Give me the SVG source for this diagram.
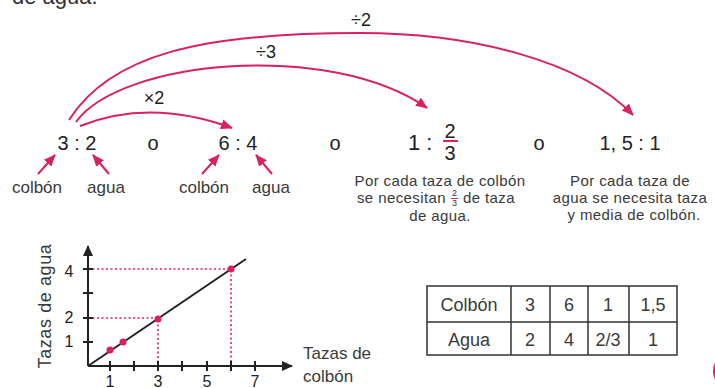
<svg xmlns="http://www.w3.org/2000/svg" width="715" height="388" viewBox="0 0 715 388">
<style>
  .num { font-family: "Liberation Sans", Arial, sans-serif; font-size: 20px; fill: #222; }
  .op { font-family: "Liberation Sans", Arial, sans-serif; font-size: 18px; fill: #222; }
  .lbl { font-family: "Liberation Sans", Arial, sans-serif; font-size: 17px; fill: #3a3a3a; }
  .desc { font-family: "Liberation Sans", Arial, sans-serif; font-size: 15px; fill: #3a3a3a; letter-spacing: 0.4px; text-anchor: middle; }
  .frac { font-family: "Liberation Sans", Arial, sans-serif; font-size: 9px; fill: #3a3a3a; text-anchor: middle; }
  .tbl { font-family: "Liberation Sans", Arial, sans-serif; font-size: 18px; fill: #3a3a3a; text-anchor: middle; }
  .ax { font-family: "Liberation Sans", Arial, sans-serif; font-size: 16px; fill: #222; text-anchor: middle; }
  .pk { fill: none; stroke: #d9215b; stroke-width: 2; }
  .dot { fill: none; stroke: #d9215b; stroke-width: 1.6; stroke-dasharray: 2 2.5; }
  .axis { fill: none; stroke: #222; stroke-width: 2; }
</style>
<defs>
  <marker id="ah" markerUnits="userSpaceOnUse" markerWidth="13" markerHeight="12" refX="11" refY="6" orient="auto">
    <path d="M0,1 L12,6 L0,11 z" fill="#d9215b"/>
  </marker>
  <marker id="axh" markerUnits="userSpaceOnUse" markerWidth="12" markerHeight="12" refX="10" refY="6" orient="auto">
    <path d="M0,1 L11,6 L0,11 z" fill="#222"/>
  </marker>
</defs>
<rect width="715" height="388" fill="#fff"/>

<text x="12" y="4" style="font-family:'Liberation Sans',Arial,sans-serif;font-size:22px;fill:#333">de agua.</text>

<g id="connectors">
  <path class="pk" d="M80,126 Q150,98 232,128" marker-end="url(#ah)"/>
  <path class="pk" d="M76,122 C120,60 330,40 427,108" marker-end="url(#ah)"/>
  <path class="pk" d="M69,120 C110,55 200,33 360,33 C470,33 580,60 633,115" marker-end="url(#ah)"/>
  <line class="pk" x1="38" y1="174" x2="55" y2="155" marker-end="url(#ah)"/>
  <line class="pk" x1="109" y1="174" x2="93" y2="155" marker-end="url(#ah)"/>
  <line class="pk" x1="202" y1="174" x2="219" y2="155" marker-end="url(#ah)"/>
  <line class="pk" x1="272" y1="174" x2="256" y2="155" marker-end="url(#ah)"/>
</g>

<g id="op-labels">
  <text class="op" x="154" y="104" text-anchor="middle">×2</text>
  <text class="op" x="266" y="58" text-anchor="middle">÷3</text>
  <text class="op" x="361" y="26" text-anchor="middle">÷2</text>
</g>

<g id="ratio-3-2">
  <text class="num" x="77" y="150" text-anchor="middle">3 : 2</text>
  <text class="lbl" x="37" y="193" text-anchor="middle">colbón</text>
  <text class="lbl" x="106" y="193" text-anchor="middle">agua</text>
</g>
<g id="or-1"><text class="num" x="153" y="150" text-anchor="middle">o</text></g>
<g id="ratio-6-4">
  <text class="num" x="238" y="150" text-anchor="middle">6 : 4</text>
  <text class="lbl" x="204" y="193" text-anchor="middle">colbón</text>
  <text class="lbl" x="271" y="193" text-anchor="middle">agua</text>
</g>
<g id="or-2"><text class="num" x="335" y="150" text-anchor="middle">o</text></g>
<g id="ratio-1-23">
  <text class="num" x="408" y="150" style="font-size:22px">1 :</text>
  <text class="num" x="450" y="138" text-anchor="middle">2</text>
  <line x1="443" y1="141" x2="458" y2="141" stroke="#d9215b" stroke-width="2"/>
  <text class="num" x="450" y="160" text-anchor="middle">3</text>
  <text class="desc" x="440" y="186">Por cada taza de colbón</text>
  <text class="desc" x="446" y="203" style="text-anchor:end">se necesitan</text>
  <text class="frac" x="454.5" y="196">2</text>
  <line x1="451" y1="198.5" x2="458" y2="198.5" stroke="#d9215b" stroke-width="1"/>
  <text class="frac" x="454.5" y="206">3</text>
  <text class="desc" x="463" y="203" style="text-anchor:start">de taza</text>
  <text class="desc" x="440" y="221">de agua.</text>
</g>
<g id="or-3"><text class="num" x="539" y="150" text-anchor="middle">o</text></g>
<g id="ratio-15-1">
  <text class="num" x="630" y="150" text-anchor="middle">1, 5 : 1</text>
  <text class="desc" x="630" y="186">Por cada taza de</text>
  <text class="desc" x="630" y="203">agua se necesita taza</text>
  <text class="desc" x="634" y="220">y media de colbón.</text>
</g>

<g id="graph">
  <path class="dot" d="M88,318 H158 V366"/>
  <path class="dot" d="M88,269 H231 V366"/>
  <line class="axis" x1="88" y1="366" x2="88" y2="246" marker-end="url(#axh)"/>
  <line class="axis" x1="88" y1="366" x2="292" y2="366" marker-end="url(#axh)"/>
  <g stroke="#222" stroke-width="2">
    <line x1="83" y1="269" x2="93" y2="269"/>
    <line x1="83" y1="293" x2="93" y2="293"/>
    <line x1="83" y1="318" x2="93" y2="318"/>
    <line x1="83" y1="342" x2="93" y2="342"/>
    <line x1="110" y1="361" x2="110" y2="371"/>
    <line x1="134" y1="361" x2="134" y2="371"/>
    <line x1="158" y1="361" x2="158" y2="371"/>
    <line x1="182" y1="361" x2="182" y2="371"/>
    <line x1="207" y1="361" x2="207" y2="371"/>
    <line x1="231" y1="361" x2="231" y2="371"/>
    <line x1="255" y1="361" x2="255" y2="371"/>
  </g>
  <line x1="88" y1="366" x2="246" y2="259" stroke="#222" stroke-width="2"/>
  <g fill="#d9215b">
    <circle cx="110" cy="350" r="3.5"/>
    <circle cx="123" cy="342" r="3.5"/>
    <circle cx="158" cy="319" r="3.5"/>
    <circle cx="231" cy="269" r="3.5"/>
  </g>
  <text class="ax" x="69" y="277">4</text>
  <text class="ax" x="69" y="323">2</text>
  <text class="ax" x="69" y="347">1</text>
  <text class="ax" x="110" y="387">1</text>
  <text class="ax" x="158" y="387">3</text>
  <text class="ax" x="207" y="387">5</text>
  <text class="ax" x="255" y="387">7</text>
  <text class="lbl" x="0" y="0" text-anchor="middle" transform="translate(51,306) rotate(-90)" style="font-size:18px;letter-spacing:0.6px">Tazas de agua</text>
  <text class="lbl" x="303" y="359">Tazas de</text>
  <text class="lbl" x="303" y="382">colbón</text>
</g>

<g id="table">
  <rect x="427" y="286" width="250" height="69" fill="none" stroke="#333" stroke-width="1.5"/>
  <g stroke="#333" stroke-width="1.5">
    <line x1="427" y1="322" x2="677" y2="322"/>
    <line x1="511" y1="286" x2="511" y2="355"/>
    <line x1="550" y1="286" x2="550" y2="355"/>
    <line x1="588" y1="286" x2="588" y2="355"/>
    <line x1="629" y1="286" x2="629" y2="355"/>
  </g>
  <text class="tbl" x="469" y="311">Colbón</text>
  <text class="tbl" x="530" y="311">3</text>
  <text class="tbl" x="569" y="311">6</text>
  <text class="tbl" x="608" y="311">1</text>
  <text class="tbl" x="653" y="311">1,5</text>
  <text class="tbl" x="469" y="346">Agua</text>
  <text class="tbl" x="530" y="346">2</text>
  <text class="tbl" x="569" y="346">4</text>
  <text class="tbl" x="608" y="346">2/3</text>
  <text class="tbl" x="653" y="346">1</text>
</g>

<circle cx="731" cy="371" r="18" fill="#d9215b"/>
</svg>
